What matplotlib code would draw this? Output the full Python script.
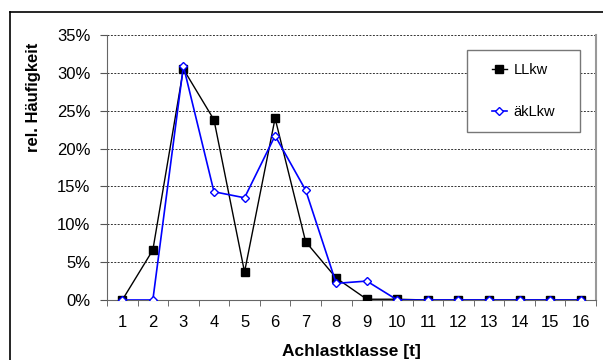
import matplotlib
matplotlib.use("Agg")
from matplotlib import pyplot as plt
from matplotlib.lines import Line2D
from matplotlib.patches import Rectangle
from matplotlib.ticker import FixedLocator, PercentFormatter

plt.rcParams['font.family'] = ['Liberation Sans', 'DejaVu Sans']

# Achlastklassen and relative frequencies in percent
classes = list(range(1, 17))
llkw = [0, 6.6, 30.5, 23.8, 3.7, 24.0, 7.7, 2.9, 0.1, 0.1, 0, 0, 0, 0, 0, 0]
aeklkw = [0, 0, 30.9, 14.3, 13.5, 21.7, 14.5, 2.2, 2.5, 0, 0, 0, 0, 0, 0, 0]

fig = plt.figure(figsize=(6.03, 3.6), dpi=100)
ax = fig.add_axes([107 / 603, 1 - 300 / 360, 489 / 603, 265 / 360])

# outer chart frame (only top and left edge visible)
fig.add_artist(Line2D([10 / 603, 1], [1 - 12 / 360] * 2, color="black", lw=1.2))
fig.add_artist(Line2D([10 / 603] * 2, [0, 1 - 12 / 360], color="black", lw=1.2))

ax.plot(classes, llkw, color="black", lw=1.0, marker="s", markersize=5.2,
        markerfacecolor="black", markeredgecolor="black", label="LLkw", zorder=3)
ax.plot(classes, aeklkw, color="#0000ff", lw=1.2, marker="D", markersize=4.2,
        markerfacecolor="white", markeredgecolor="#0000ff", markeredgewidth=1.0,
        label="äkLkw", zorder=4)

ax.set_xlim(0.5, 16.5)
ax.set_ylim(0, 35)
ax.set_yticks(range(0, 36, 5))
ax.yaxis.set_major_formatter(PercentFormatter(decimals=0))
ax.set_xticks(classes)
ax.xaxis.set_minor_locator(FixedLocator([c + 0.5 for c in range(0, 17)]))
ax.tick_params(axis="x", which="major", length=0, labelsize=12, pad=11)
ax.tick_params(axis="x", which="minor", length=4, direction="out", color="#555555")
ax.tick_params(axis="y", length=5, direction="out", color="#555555", labelsize=12, pad=7)

for y in range(5, 36, 5):
    ax.axhline(y, color="#333333", lw=0.7, ls=(0, (2, 1.5)), zorder=1)

ax.spines["top"].set_visible(False)
ax.spines["left"].set_color("#666666")
ax.spines["bottom"].set_color("#666666")
ax.spines["right"].set_color("#999999")
ax.spines["right"].set_linewidth(1.5)

ax.set_xlabel("Achlastklasse [t]", fontsize=12.5, fontweight="bold", labelpad=10)
ax.set_ylabel("rel. Häufigkeit", fontsize=12, fontweight="bold")
ax.yaxis.set_label_coords(41 / 603, 1 - 97 / 360, transform=fig.transFigure)

# legend box like the Excel one
ax.add_patch(Rectangle((467 / 603, 1 - 132 / 360), 113 / 603, 82 / 360,
                       transform=fig.transFigure, clip_on=False,
                       facecolor="white", edgecolor="#777777", lw=1.0, zorder=5))
leg = ax.legend(loc="upper left", bbox_to_anchor=(492 / 603, 1 - 63 / 360),
                bbox_transform=fig.transFigure, borderaxespad=0, borderpad=0,
                fontsize=10.5, handlelength=1.0, handletextpad=0.5,
                labelspacing=1.95, frameon=False)
leg.set_zorder(6)

fig.savefig("out.png", dpi=100)
